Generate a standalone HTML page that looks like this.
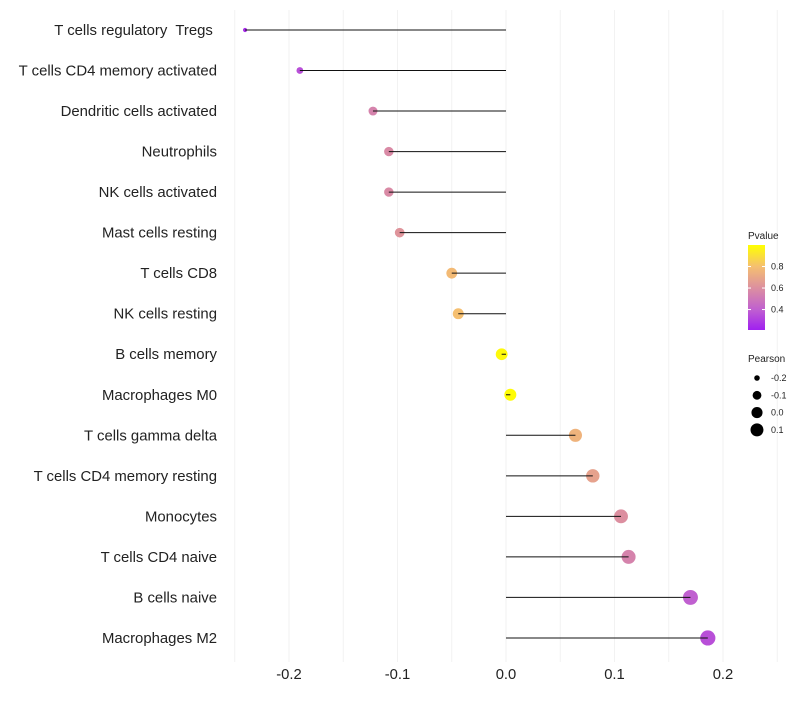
<!DOCTYPE html>
<html><head><meta charset="utf-8"><style>
body{margin:0;background:#fff;font-family:"Liberation Sans",sans-serif;}
text{white-space:pre;}
</style></head><body>
<svg id="c" width="800" height="700" xmlns="http://www.w3.org/2000/svg"></svg>
<script>
const categories=["T cells regulatory  Tregs ","T cells CD4 memory activated","Dendritic cells activated","Neutrophils","NK cells activated","Mast cells resting","T cells CD8","NK cells resting","B cells memory","Macrophages M0","T cells gamma delta","T cells CD4 memory resting","Monocytes","T cells CD4 naive","B cells naive","Macrophages M2"];
const pearson=[-0.2405,-0.19,-0.1226,-0.108,-0.108,-0.098,-0.05,-0.044,-0.004,0.004,0.064,0.080,0.106,0.113,0.170,0.186];
const pvalue=[0.25,0.35,0.55,0.58,0.58,0.62,0.78,0.8,0.98,0.99,0.75,0.68,0.6,0.55,0.4,0.35];
const xTicks=[-0.2,-0.1,0.0,0.1,0.2];
const xTickLabels=["-0.2","-0.1","0.0","0.1","0.2"];
const pTicks=[0.4,0.6,0.8];
const sizeTicks=[-0.2,-0.1,0.0,0.1];
const sizeTickLabels=["-0.2","-0.1","0.0","0.1"];

const svg=document.getElementById('c');
const NS="http://www.w3.org/2000/svg";
function el(t,a,p){const e=document.createElementNS(NS,t);for(const k in a)e.setAttribute(k,a[k]);(p||svg).appendChild(e);return e;}
const x=v=>506+v*1085;
const y=i=>30+i*40.53;
const r=v=>0.6+Math.sqrt(Math.max(1,2.25+109.7*(v+0.24)));
const stops=[[0.21,[160,32,240]],[0.4,[192,96,208]],[0.6,[220,143,160]],[0.8,[245,191,112]],[1.0,[255,255,0]]];
function col(p){if(p<=stops[0][0])return `rgb(${stops[0][1]})`;for(let i=1;i<stops.length;i++){if(p<=stops[i][0]){const a=stops[i-1],b=stops[i],t=(p-a[0])/(b[0]-a[0]);return `rgb(${a[1].map((c,j)=>Math.round(c+(b[1][j]-c)*t)).join(',')})`;}}return 'rgb(255,255,0)';}

for(let k=-5;k<=5;k++){const v=k*0.05;const g=el('line',{x1:x(v),x2:x(v),y1:10,y2:662,stroke:'#f2f2f2','stroke-width':1});
}
xTicks.forEach((v,i)=>{const t=el('text',{x:x(v),y:679,'text-anchor':'middle','font-size':14.8,fill:'#222'});t.textContent=xTickLabels[i];
});
categories.forEach((c,i)=>{
 const t=el('text',{x:217,y:y(i)+5,'text-anchor':'end','font-size':14.9,fill:'#222'});t.textContent=c;
 
 const p=el('circle',{cx:x(pearson[i]),cy:y(i),r:r(pearson[i]),fill:col(pvalue[i])});
 
 const l=el('line',{x1:x(0),x2:x(pearson[i]),y1:y(i),y2:y(i),stroke:'#111','stroke-width':1});
 
});
const lt=el('text',{x:748,y:239,'font-size':10,fill:'#222'});lt.textContent='Pvalue';

const defs=el('defs',{});const gr=el('linearGradient',{id:'pg',x1:0,y1:1,x2:0,y2:0},defs);
stops.forEach(s=>el('stop',{offset:(s[0]-0.21)/0.79,'stop-color':`rgb(${s[1]})`},gr));
const cb=el('rect',{x:748,y:245,width:17,height:85,fill:'url(#pg)'});

const py=p=>330-(p-0.21)/0.79*85;
pTicks.forEach(p=>{el('line',{x1:748,x2:751,y1:py(p),y2:py(p),stroke:'#fff'});el('line',{x1:762,x2:765,y1:py(p),y2:py(p),stroke:'#fff'});
 const t=el('text',{x:771,y:py(p)+3,'font-size':9,fill:'#222'});t.textContent=p.toFixed(1);
 });
const st=el('text',{x:748,y:362,'font-size':10,fill:'#222'});st.textContent='Pearson';

sizeTicks.forEach((v,i)=>{const cy=378+i*17.3;const c=el('circle',{cx:757,cy:cy,r:r(v)-0.4,fill:'#000'});
 
 const t=el('text',{x:771,y:cy+3,'font-size':9,fill:'#222'});t.textContent=sizeTickLabels[i];
 });
</script>
</body></html>
